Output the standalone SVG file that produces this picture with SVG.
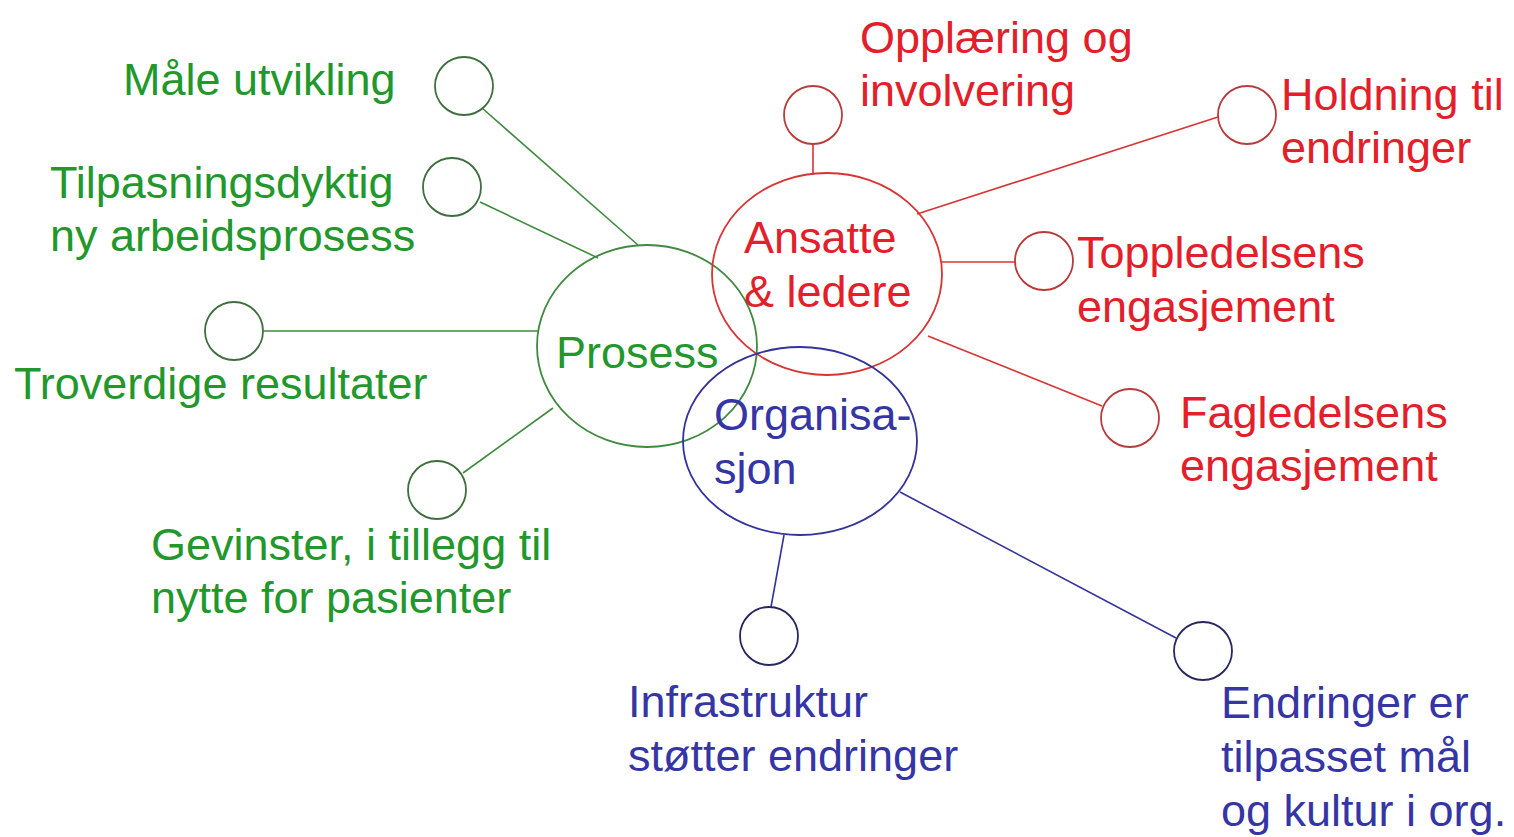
<svg xmlns="http://www.w3.org/2000/svg" width="1514" height="837" viewBox="0 0 1514 837">
  <style>
    text { font-family: "Liberation Sans", Arial, sans-serif; font-size: 45px; }
    .g { fill: #22972b; }
    .r { fill: #e3202a; }
    .b { fill: #3535a6; }
    .hub { fill: none; stroke-width: 1.8; }
    .leaf { fill: none; stroke-width: 1.8; }
    .lg { stroke: #3f8a3f; }
    .lr { stroke: #d83434; }
    .lb { stroke: #33339a; }
    .connectors line { stroke-width: 1.6; }
  </style>
  <rect width="1514" height="837" fill="#ffffff"/>

  <!-- connectors -->
  <g id="connectors" class="connectors">
    <line class="lg" x1="482" y1="108" x2="638" y2="245"/>
    <line class="lg" x1="480" y1="202" x2="598" y2="258"/>
    <line class="lg" x1="264" y1="331" x2="539" y2="331"/>
    <line class="lg" x1="463" y1="473" x2="553" y2="408"/>
    <line class="lr" x1="813" y1="144" x2="813" y2="173"/>
    <line class="lr" x1="1218" y1="117" x2="917" y2="214"/>
    <line class="lr" x1="1015" y1="262" x2="942" y2="262"/>
    <line class="lr" x1="1102" y1="406" x2="928" y2="336"/>
    <line class="lb" x1="771" y1="607" x2="784" y2="535"/>
    <line class="lb" x1="1176" y1="638" x2="900" y2="492"/>
  </g>

  <!-- hub nodes -->
  <g id="prosess">
    <ellipse class="hub lg" cx="647" cy="346" rx="110" ry="101"/>
    <text class="g" x="556" y="368">Prosess</text>
  </g>
  <g id="ansatte">
    <ellipse class="hub lr" cx="827" cy="274" rx="115" ry="101"/>
    <text class="r" x="744" y="253">Ansatte</text>
    <text class="r" x="744" y="307">&amp; ledere</text>
  </g>
  <g id="organisasjon">
    <ellipse class="hub lb" cx="800" cy="441" rx="117" ry="94"/>
    <text class="b" x="714" y="430">Organisa-</text>
    <text class="b" x="714" y="484">sjon</text>
  </g>

  <!-- Prosess leaves -->
  <g id="maale">
    <circle class="leaf" stroke="#3d6e3d" cx="464" cy="86" r="29"/>
    <text class="g" x="123" y="95">Måle utvikling</text>
  </g>
  <g id="tilpasning">
    <circle class="leaf" stroke="#3d6e3d" cx="452" cy="187" r="29"/>
    <text class="g" x="50" y="198">Tilpasningsdyktig</text>
    <text class="g" x="50" y="251">ny arbeidsprosess</text>
  </g>
  <g id="troverdige">
    <circle class="leaf" stroke="#3d6e3d" cx="234" cy="331" r="29"/>
    <text class="g" x="14" y="399">Troverdige resultater</text>
  </g>
  <g id="gevinster">
    <circle class="leaf" stroke="#3d6e3d" cx="437" cy="490" r="29"/>
    <text class="g" x="151" y="560">Gevinster, i tillegg til</text>
    <text class="g" x="151" y="613">nytte for pasienter</text>
  </g>

  <!-- Ansatte leaves -->
  <g id="opplaering">
    <circle class="leaf" stroke="#b83a3a" cx="813" cy="115" r="29"/>
    <text class="r" x="860" y="53">Opplæring og</text>
    <text class="r" x="860" y="106">involvering</text>
  </g>
  <g id="holdning">
    <circle class="leaf" stroke="#b83a3a" cx="1247" cy="115" r="29"/>
    <text class="r" x="1281" y="110">Holdning til</text>
    <text class="r" x="1281" y="163">endringer</text>
  </g>
  <g id="toppledelsen">
    <circle class="leaf" stroke="#b83a3a" cx="1044" cy="261" r="29"/>
    <text class="r" x="1077" y="268">Toppledelsens</text>
    <text class="r" x="1077" y="322">engasjement</text>
  </g>
  <g id="fagledelsen">
    <circle class="leaf" stroke="#b83a3a" cx="1130" cy="418" r="29"/>
    <text class="r" x="1180" y="428">Fagledelsens</text>
    <text class="r" x="1180" y="481">engasjement</text>
  </g>

  <!-- Organisasjon leaves -->
  <g id="infrastruktur">
    <circle class="leaf" stroke="#262660" cx="769" cy="636" r="29"/>
    <text class="b" x="628" y="717">Infrastruktur</text>
    <text class="b" x="628" y="771">støtter endringer</text>
  </g>
  <g id="endringer">
    <circle class="leaf" stroke="#262660" cx="1203" cy="651" r="29"/>
    <text class="b" x="1221" y="718">Endringer er</text>
    <text class="b" x="1221" y="772">tilpasset mål</text>
    <text class="b" x="1221" y="826">og kultur i org.</text>
  </g>
</svg>
